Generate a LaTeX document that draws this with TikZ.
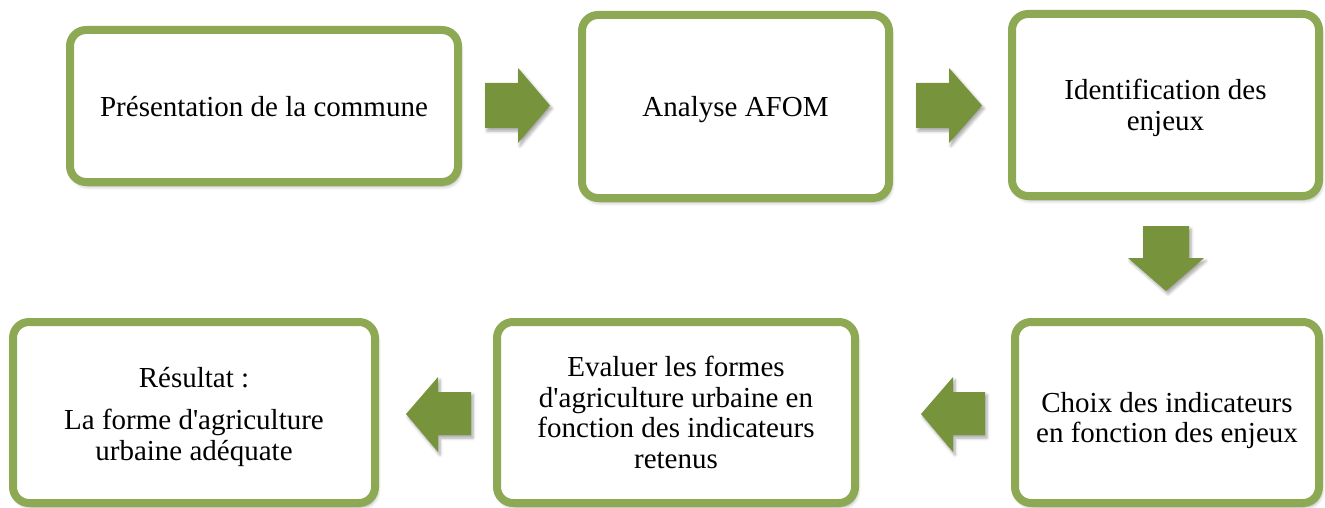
\documentclass[tikz,border=0pt]{standalone}
\usepackage{fontspec}
\setmainfont{Liberation Serif}
\usetikzlibrary{shadows.blur}
\definecolor{boxgreen}{HTML}{8DA954}
\definecolor{arrowgreen}{HTML}{77933C}
\tikzset{
  stepbox/.style={draw=boxgreen, line width=8pt, rounded corners=16pt, fill=white,
    align=center, inner sep=0pt, font=\fontsize{29}{30.5}\selectfont,
    blur shadow={shadow xshift=2pt, shadow yshift=-4pt, shadow blur steps=6, shadow blur radius=4pt, shadow opacity=35}},
  blockarrow/.style={fill=arrowgreen,
    blur shadow={shadow xshift=2pt, shadow yshift=-3pt, shadow blur steps=5, shadow blur radius=3pt, shadow opacity=35}}
}
\newcommand{\apos}{\textquotesingle}
\newcommand{\lowered}[2]{\raisebox{-#1}[\height][\depth]{#2}}
\begin{document}
\begin{tikzpicture}[x=1pt,y=-1pt]
\useasboundingbox (0,0) rectangle (1325,508);
\node[stepbox, minimum width=388pt, minimum height=152pt] (b1) at (264,106) {\lowered{1pt}{Présentation de la commune}};
\node[stepbox, minimum width=307pt, minimum height=183pt] (b2) at (735.5,106.5) {\lowered{3pt}{Analyse AFOM}};
\node[stepbox, minimum width=307pt, minimum height=182pt] (b3) at (1165.5,105) {\lowered{4pt}{\begin{tabular}{@{}c@{}}Identification des\\enjeux\end{tabular}}};
\node[stepbox, minimum width=304pt, minimum height=181pt] (b6) at (1167,412.5) {\lowered{9pt}{\begin{tabular}{@{}c@{}}Choix des indicateurs\\en fonction des enjeux\end{tabular}}};
\node[stepbox, minimum width=358pt, minimum height=181pt] (b5) at (676,412.5) {Evaluer les formes\\d\apos agriculture urbaine en\\fonction des indicateurs\\retenus};
\node[stepbox, minimum width=362pt, minimum height=181pt] (b4) at (194,412.5) {\lowered{5pt}{\begin{tabular}{@{}c@{}}Résultat :\\[12pt]La forme d\apos agriculture\\urbaine adéquate\end{tabular}}};
% block arrows
\fill[blockarrow] (485,83) -- (518,83) -- (518,68) -- (550,105.5) -- (518,143) -- (518,128) -- (485,128) -- cycle;
\fill[blockarrow] (916,83) -- (949,83) -- (949,68) -- (982,105.5) -- (949,143) -- (949,128) -- (916,128) -- cycle;
\fill[blockarrow] (1143,226) -- (1189,226) -- (1189,258) -- (1204,258) -- (1166,291) -- (1128,258) -- (1143,258) -- cycle;
\fill[blockarrow] (985,392) -- (953,392) -- (953,377) -- (921,414) -- (953,452) -- (953,435) -- (985,435) -- cycle;
\fill[blockarrow] (471,392) -- (438,392) -- (438,377) -- (406,414) -- (438,452) -- (438,435) -- (471,435) -- cycle;
\end{tikzpicture}
\end{document}
